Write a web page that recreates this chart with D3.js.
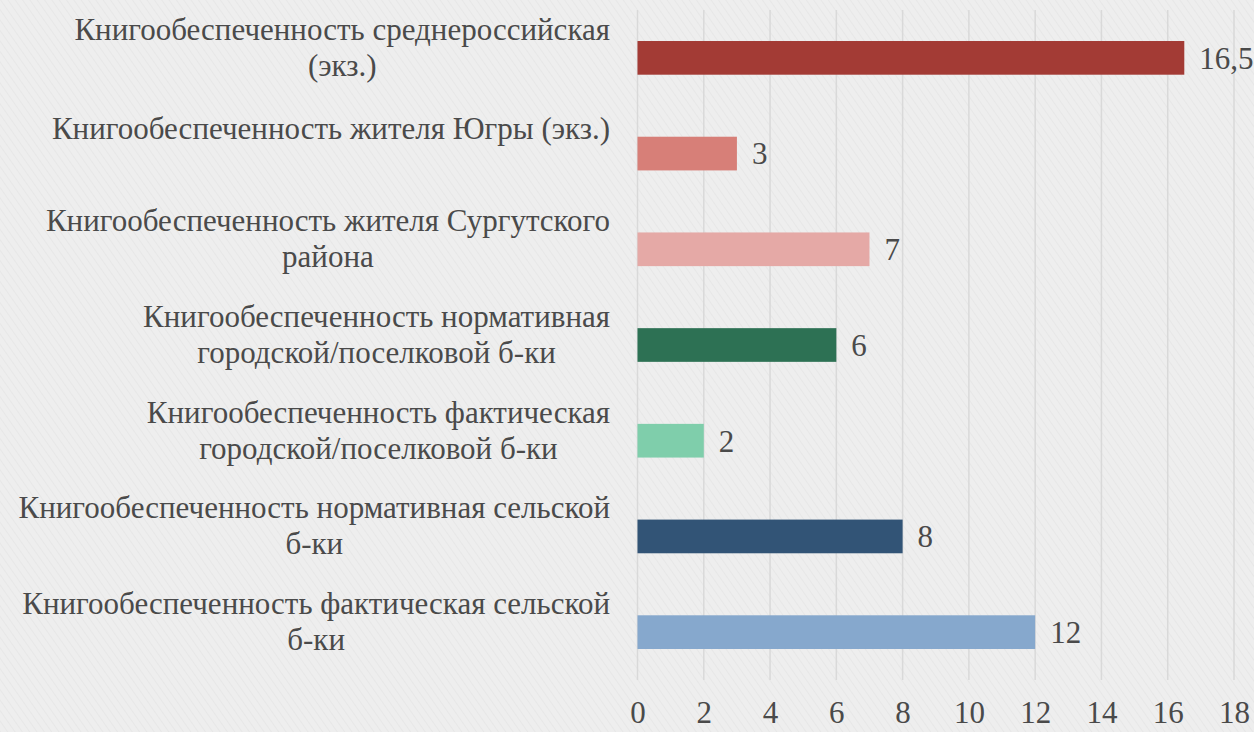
<!DOCTYPE html>
<html><head><meta charset="utf-8">
<script src="https://cdn.jsdelivr.net/npm/d3@7"></script>
<style>
html,body{margin:0;padding:0;background:#ededed;}
svg{display:block;}
</style></head>
<body>
<svg id="chart" width="1254" height="732"></svg>
<script>
const categories = [
  ["Книгообеспеченность среднероссийская", "(экз.)"],
  ["Книгообеспеченность жителя Югры (экз.)"],
  ["Книгообеспеченность жителя Сургутского", "района"],
  ["Книгообеспеченность нормативная", "городской/поселковой б-ки"],
  ["Книгообеспеченность фактическая", "городской/поселковой б-ки"],
  ["Книгообеспеченность нормативная сельской", "б-ки"],
  ["Книгообеспеченность фактическая сельской", "б-ки"]
];
const values = [16.5, 3, 7, 6, 2, 8, 12];
const colors = ["#a33b35", "#d77f78", "#e5a9a6", "#2d7154", "#7fceab", "#325476", "#86a8cd"];
const xTicks = [0, 2, 4, 6, 8, 10, 12, 14, 16, 18];

(function () {
const FONT = '"Liberation Serif", "Times New Roman", serif';
const TXT = "#4a4a4a";
const svg = d3.select("#chart");
const mLeft = 637.5, mRight = 1234, mTop = 10, mBottom = 680;
const fs = 31;

// background texture
const defs = svg.append("defs");
const pat = defs.append("pattern").attr("id","tex").attr("width",6).attr("height",6)
  .attr("patternUnits","userSpaceOnUse").attr("patternTransform","rotate(-35)");
pat.append("rect").attr("width",6).attr("height",6).attr("fill","#eeeeee");
pat.append("line").attr("x1",0).attr("y1",0).attr("x2",0).attr("y2",6).attr("stroke","#e7e7e7").attr("stroke-width",2);
svg.append("rect").attr("width",1254).attr("height",732).attr("fill","url(#tex)");

const x = d3.scaleLinear().domain([0, 18]).range([mLeft, mRight]);
const y = d3.scaleBand().domain(d3.range(categories.length)).range([mTop, mBottom]).paddingInner(0.648).paddingOuter(0.324);

// gridlines
svg.append("g").selectAll("line").data(xTicks).join("line")
  .attr("x1", d => x(d)).attr("x2", d => x(d))
  .attr("y1", mTop).attr("y2", mBottom)
  .attr("stroke", "#d9d9d9").attr("stroke-width", 1.5);

// axis labels
const xAxis = d3.axisBottom(x).tickValues(xTicks).tickSize(0).tickPadding(0).tickFormat(d => d);
const ax = svg.append("g").attr("transform", `translate(0,${mBottom})`).call(xAxis);
ax.select(".domain").remove();
ax.attr("font-family", null).attr("font-size", null);
ax.selectAll("text").attr("y", 32).attr("dy", "0.35em")
  .style("font-size", fs + "px").style("font-family", FONT).style("fill", TXT);

// bars
svg.append("g").selectAll("rect").data(values).join("rect")
  .attr("x", x(0)).attr("y", (d, i) => y(i))
  .attr("width", d => x(d) - x(0)).attr("height", y.bandwidth())
  .attr("fill", (d, i) => colors[i]);

// value labels
svg.append("g").selectAll("text").data(values).join("text")
  .attr("x", d => x(d) + 15).attr("y", (d, i) => y(i) + y.bandwidth() / 2)
  .attr("dy", "0.35em").style("font-size", fs + "px").style("font-family", FONT).style("fill", TXT)
  .text(d => String(d).replace(".", ","));

// category labels
const lab = svg.append("g");
categories.forEach((lines, i) => {
  const c = y(i) + y.bandwidth() / 2;
  const g = lab.append("g");
  const n = lines.length;
  const base = n === 1 ? c - 25 : c - 11 - 18;
  const ts = lines.map((t, k) => g.append("text").attr("y", base + k * 36).attr("dy", "0.35em")
    .attr("text-anchor", "middle").style("font-size", fs + "px").style("font-family", FONT).style("fill", TXT).text(t));
  const w = d3.max(ts, t => t.node().getComputedTextLength());
  ts.forEach(t => t.attr("x", 610 - w / 2));
});
})();
</script>
</body></html>
